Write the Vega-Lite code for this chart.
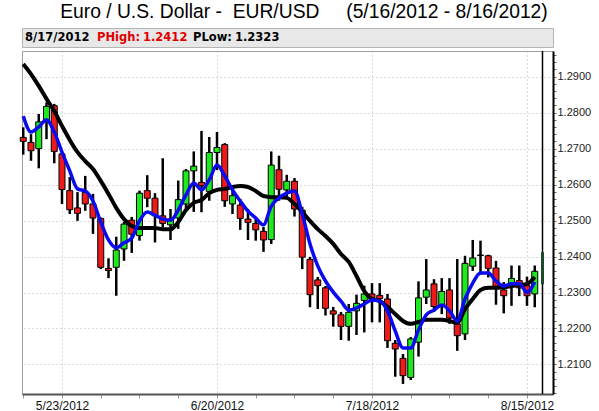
{
  "$schema": "https://vega.github.io/schema/vega-lite/v6.json",
  "background": "white",
  "padding": {"left": 14, "top": 3, "right": 2, "bottom": 2},
  "title": {
    "text": "Euro / U.S. Dollar -\u00a0 EUR/USD\u00a0\u00a0\u00a0\u00a0\u00a0(5/16/2012 - 8/16/2012)",
    "font": "Liberation Sans",
    "fontSize": 19.3,
    "fontWeight": "normal",
    "color": "#000000",
    "anchor": "middle",
    "dx": 1,
    "offset": 5
  },
  "config": {"font": "Liberation Sans", "view": {"stroke": null}},
  "spacing": 0,
  "vconcat": [
    {
      "width": 531,
      "height": 19,
      "view": {"fill": "#e8e8e8", "stroke": "#b4b4b4"},
      "layer": [
        {
          "data": {"values": [{"t": "8/17/2012"}]},
          "mark": {"type": "text", "align": "left", "baseline": "middle", "font": "DejaVu Sans", "fontWeight": "bold", "fontSize": 11.5, "color": "#000000"},
          "encoding": {"text": {"field": "t"}, "x": {"value": 3}, "y": {"value": 10}}
        },
        {
          "data": {"values": [{"t": "PHigh:"}]},
          "mark": {"type": "text", "align": "left", "baseline": "middle", "font": "DejaVu Sans", "fontWeight": "bold", "fontSize": 11.5, "color": "#e00000"},
          "encoding": {"text": {"field": "t"}, "x": {"value": 75}, "y": {"value": 10}}
        },
        {
          "data": {"values": [{"t": "1.2412"}]},
          "mark": {"type": "text", "align": "left", "baseline": "middle", "font": "DejaVu Sans", "fontWeight": "bold", "fontSize": 11.5, "color": "#e00000"},
          "encoding": {"text": {"field": "t"}, "x": {"value": 121}, "y": {"value": 10}}
        },
        {
          "data": {"values": [{"t": "PLow:"}]},
          "mark": {"type": "text", "align": "left", "baseline": "middle", "font": "DejaVu Sans", "fontWeight": "bold", "fontSize": 11.5, "color": "#000000"},
          "encoding": {"text": {"field": "t"}, "x": {"value": 171}, "y": {"value": 10}}
        },
        {
          "data": {"values": [{"t": "1.2323"}]},
          "mark": {"type": "text", "align": "left", "baseline": "middle", "font": "DejaVu Sans", "fontWeight": "bold", "fontSize": 11.5, "color": "#000000"},
          "encoding": {"text": {"field": "t"}, "x": {"value": 213}, "y": {"value": 10}}
        }
      ]
    },
    {
      "width": 531,
      "height": 343,
      "view": {"stroke": "#a0a0a0"},
      "data": {
        "values": [
          {"date": "5/16/2012", "open": 1.2731, "high": 1.2759, "low": 1.2683, "close": 1.2720, "ma_fast": 1.2790, "ma_slow": 1.2935},
          {"date": "5/17/2012", "open": 1.2717, "high": 1.2740, "low": 1.2666, "close": 1.2694, "ma_fast": 1.2746, "ma_slow": 1.2907},
          {"date": "5/18/2012", "open": 1.2700, "high": 1.2796, "low": 1.2645, "close": 1.2774, "ma_fast": 1.2760, "ma_slow": 1.2874},
          {"date": "5/21/2012", "open": 1.2780, "high": 1.2828, "low": 1.2726, "close": 1.2817, "ma_fast": 1.2779, "ma_slow": 1.2838},
          {"date": "5/22/2012", "open": 1.2819, "high": 1.2824, "low": 1.2659, "close": 1.2692, "ma_fast": 1.2746, "ma_slow": 1.2804},
          {"date": "5/23/2012", "open": 1.2685, "high": 1.2690, "low": 1.2546, "close": 1.2586, "ma_fast": 1.2690, "ma_slow": 1.2763},
          {"date": "5/24/2012", "open": 1.2583, "high": 1.2621, "low": 1.2518, "close": 1.2530, "ma_fast": 1.2638, "ma_slow": 1.2724},
          {"date": "5/25/2012", "open": 1.2535, "high": 1.2579, "low": 1.2499, "close": 1.2520, "ma_fast": 1.2588, "ma_slow": 1.2690},
          {"date": "5/28/2012", "open": 1.2578, "high": 1.2624, "low": 1.2527, "close": 1.2546, "ma_fast": 1.2582, "ma_slow": 1.2665},
          {"date": "5/29/2012", "open": 1.2546, "high": 1.2574, "low": 1.2463, "close": 1.2507, "ma_fast": 1.2554, "ma_slow": 1.2643},
          {"date": "5/30/2012", "open": 1.2506, "high": 1.2508, "low": 1.2365, "close": 1.2370, "ma_fast": 1.2496, "ma_slow": 1.2610},
          {"date": "5/31/2012", "open": 1.2367, "high": 1.2395, "low": 1.2340, "close": 1.2361, "ma_fast": 1.2446, "ma_slow": 1.2574},
          {"date": "6/1/2012", "open": 1.2370, "high": 1.2455, "low": 1.2291, "close": 1.2418, "ma_fast": 1.2424, "ma_slow": 1.2535},
          {"date": "6/4/2012", "open": 1.2421, "high": 1.2496, "low": 1.2388, "close": 1.2490, "ma_fast": 1.2438, "ma_slow": 1.2504},
          {"date": "6/5/2012", "open": 1.2501, "high": 1.2510, "low": 1.2410, "close": 1.2462, "ma_fast": 1.2451, "ma_slow": 1.2485},
          {"date": "6/6/2012", "open": 1.2458, "high": 1.2583, "low": 1.2444, "close": 1.2576, "ma_fast": 1.2499, "ma_slow": 1.2479},
          {"date": "6/7/2012", "open": 1.2583, "high": 1.2626, "low": 1.2537, "close": 1.2562, "ma_fast": 1.2524, "ma_slow": 1.2479},
          {"date": "6/8/2012", "open": 1.2562, "high": 1.2576, "low": 1.2439, "close": 1.2513, "ma_fast": 1.2515, "ma_slow": 1.2479},
          {"date": "6/11/2012", "open": 1.2513, "high": 1.2673, "low": 1.2481, "close": 1.2492, "ma_fast": 1.2504, "ma_slow": 1.2476},
          {"date": "6/12/2012", "open": 1.2488, "high": 1.2532, "low": 1.2446, "close": 1.2504, "ma_fast": 1.2501, "ma_slow": 1.2476},
          {"date": "6/13/2012", "open": 1.2507, "high": 1.2611, "low": 1.2477, "close": 1.2558, "ma_fast": 1.2529, "ma_slow": 1.2496},
          {"date": "6/14/2012", "open": 1.2546, "high": 1.2643, "low": 1.2532, "close": 1.2638, "ma_fast": 1.2571, "ma_slow": 1.2529},
          {"date": "6/15/2012", "open": 1.2638, "high": 1.2692, "low": 1.2524, "close": 1.2651, "ma_fast": 1.2604, "ma_slow": 1.2549},
          {"date": "6/18/2012", "open": 1.2606, "high": 1.2749, "low": 1.2523, "close": 1.2597, "ma_fast": 1.2585, "ma_slow": 1.2557},
          {"date": "6/19/2012", "open": 1.2581, "high": 1.2732, "low": 1.2555, "close": 1.2689, "ma_fast": 1.2613, "ma_slow": 1.2576},
          {"date": "6/20/2012", "open": 1.2689, "high": 1.2746, "low": 1.2640, "close": 1.2703, "ma_fast": 1.2654, "ma_slow": 1.2585},
          {"date": "6/21/2012", "open": 1.2711, "high": 1.2715, "low": 1.2538, "close": 1.2555, "ma_fast": 1.2624, "ma_slow": 1.2588},
          {"date": "6/22/2012", "open": 1.2546, "high": 1.2582, "low": 1.2518, "close": 1.2569, "ma_fast": 1.2585, "ma_slow": 1.2593},
          {"date": "6/25/2012", "open": 1.2543, "high": 1.2560, "low": 1.2474, "close": 1.2506, "ma_fast": 1.2554, "ma_slow": 1.2596},
          {"date": "6/26/2012", "open": 1.2504, "high": 1.2532, "low": 1.2446, "close": 1.2495, "ma_fast": 1.2526, "ma_slow": 1.2593},
          {"date": "6/27/2012", "open": 1.2492, "high": 1.2510, "low": 1.2444, "close": 1.2474, "ma_fast": 1.2507, "ma_slow": 1.2582},
          {"date": "6/28/2012", "open": 1.2470, "high": 1.2482, "low": 1.2413, "close": 1.2446, "ma_fast": 1.2488, "ma_slow": 1.2568},
          {"date": "6/29/2012", "open": 1.2447, "high": 1.2692, "low": 1.2435, "close": 1.2654, "ma_fast": 1.2540, "ma_slow": 1.2565},
          {"date": "7/2/2012", "open": 1.2641, "high": 1.2680, "low": 1.2555, "close": 1.2587, "ma_fast": 1.2563, "ma_slow": 1.2565},
          {"date": "7/3/2012", "open": 1.2585, "high": 1.2627, "low": 1.2568, "close": 1.2609, "ma_fast": 1.2576, "ma_slow": 1.2563},
          {"date": "7/4/2012", "open": 1.2609, "high": 1.2618, "low": 1.2511, "close": 1.2532, "ma_fast": 1.2582, "ma_slow": 1.2546},
          {"date": "7/5/2012", "open": 1.2529, "high": 1.2538, "low": 1.2365, "close": 1.2398, "ma_fast": 1.2518, "ma_slow": 1.2524},
          {"date": "7/6/2012", "open": 1.2392, "high": 1.2399, "low": 1.2259, "close": 1.2294, "ma_fast": 1.2435, "ma_slow": 1.2499},
          {"date": "7/9/2012", "open": 1.2335, "high": 1.2343, "low": 1.2254, "close": 1.2319, "ma_fast": 1.2374, "ma_slow": 1.2476},
          {"date": "7/10/2012", "open": 1.2313, "high": 1.2318, "low": 1.2236, "close": 1.2256, "ma_fast": 1.2332, "ma_slow": 1.2457},
          {"date": "7/11/2012", "open": 1.2249, "high": 1.2260, "low": 1.2205, "close": 1.2240, "ma_fast": 1.2301, "ma_slow": 1.2435},
          {"date": "7/12/2012", "open": 1.2238, "high": 1.2246, "low": 1.2168, "close": 1.2206, "ma_fast": 1.2276, "ma_slow": 1.2407},
          {"date": "7/13/2012", "open": 1.2206, "high": 1.2268, "low": 1.2166, "close": 1.2245, "ma_fast": 1.2251, "ma_slow": 1.2385},
          {"date": "7/16/2012", "open": 1.2249, "high": 1.2294, "low": 1.2182, "close": 1.2270, "ma_fast": 1.2257, "ma_slow": 1.2346},
          {"date": "7/17/2012", "open": 1.2278, "high": 1.2319, "low": 1.2189, "close": 1.2296, "ma_fast": 1.2268, "ma_slow": 1.2304},
          {"date": "7/18/2012", "open": 1.2296, "high": 1.2326, "low": 1.2217, "close": 1.2285, "ma_fast": 1.2279, "ma_slow": 1.2282},
          {"date": "7/19/2012", "open": 1.2292, "high": 1.2326, "low": 1.2217, "close": 1.2283, "ma_fast": 1.2276, "ma_slow": 1.2276},
          {"date": "7/20/2012", "open": 1.2282, "high": 1.2296, "low": 1.2146, "close": 1.2166, "ma_fast": 1.2249, "ma_slow": 1.2260},
          {"date": "7/23/2012", "open": 1.2159, "high": 1.2168, "low": 1.2066, "close": 1.2143, "ma_fast": 1.2193, "ma_slow": 1.2240},
          {"date": "7/24/2012", "open": 1.2117, "high": 1.2129, "low": 1.2046, "close": 1.2069, "ma_fast": 1.2146, "ma_slow": 1.2221},
          {"date": "7/25/2012", "open": 1.2064, "high": 1.2176, "low": 1.2057, "close": 1.2171, "ma_fast": 1.2146, "ma_slow": 1.2213},
          {"date": "7/26/2012", "open": 1.2162, "high": 1.2331, "low": 1.2122, "close": 1.2285, "ma_fast": 1.2196, "ma_slow": 1.2218},
          {"date": "7/27/2012", "open": 1.2287, "high": 1.2393, "low": 1.2268, "close": 1.2307, "ma_fast": 1.2238, "ma_slow": 1.2224},
          {"date": "7/30/2012", "open": 1.2324, "high": 1.2337, "low": 1.2246, "close": 1.2261, "ma_fast": 1.2251, "ma_slow": 1.2224},
          {"date": "7/31/2012", "open": 1.2263, "high": 1.2340, "low": 1.2240, "close": 1.2303, "ma_fast": 1.2265, "ma_slow": 1.2224},
          {"date": "8/1/2012", "open": 1.2307, "high": 1.2340, "low": 1.2213, "close": 1.2229, "ma_fast": 1.2249, "ma_slow": 1.2221},
          {"date": "8/2/2012", "open": 1.2213, "high": 1.2393, "low": 1.2138, "close": 1.2180, "ma_fast": 1.2221, "ma_slow": 1.2215},
          {"date": "8/3/2012", "open": 1.2185, "high": 1.2402, "low": 1.2168, "close": 1.2381, "ma_fast": 1.2282, "ma_slow": 1.2254},
          {"date": "8/6/2012", "open": 1.2373, "high": 1.2446, "low": 1.2360, "close": 1.2396, "ma_fast": 1.2326, "ma_slow": 1.2282},
          {"date": "8/7/2012", "open": 1.2404, "high": 1.2444, "low": 1.2350, "close": 1.2403, "ma_fast": 1.2354, "ma_slow": 1.2307},
          {"date": "8/8/2012", "open": 1.2402, "high": 1.2405, "low": 1.2342, "close": 1.2367, "ma_fast": 1.2354, "ma_slow": 1.2313},
          {"date": "8/9/2012", "open": 1.2368, "high": 1.2388, "low": 1.2266, "close": 1.2317, "ma_fast": 1.2332, "ma_slow": 1.2313},
          {"date": "8/10/2012", "open": 1.2307, "high": 1.2329, "low": 1.2242, "close": 1.2291, "ma_fast": 1.2318, "ma_slow": 1.2315},
          {"date": "8/13/2012", "open": 1.2319, "high": 1.2375, "low": 1.2263, "close": 1.2339, "ma_fast": 1.2324, "ma_slow": 1.2318},
          {"date": "8/14/2012", "open": 1.2333, "high": 1.2375, "low": 1.2290, "close": 1.2313, "ma_fast": 1.2324, "ma_slow": 1.2321},
          {"date": "8/15/2012", "open": 1.2319, "high": 1.2344, "low": 1.2263, "close": 1.2291, "ma_fast": 1.2301, "ma_slow": 1.2324},
          {"date": "8/16/2012", "open": 1.2296, "high": 1.2375, "low": 1.2259, "close": 1.2359, "ma_fast": 1.2329, "ma_slow": 1.2343},
          {"date": "8/17/2012", "proj_high": 1.2412, "proj_low": 1.2323}
        ]
      },
      "encoding": {
        "x": {
          "field": "date",
          "type": "ordinal",
          "sort": null,
          "scale": {
            "type": "point",
            "padding": 0.758,
            "align": 0.106,
            "domain": ["5/16/2012", "5/17/2012", "5/18/2012", "5/21/2012", "5/22/2012", "5/23/2012", "5/24/2012", "5/25/2012", "5/28/2012", "5/29/2012", "5/30/2012", "5/31/2012", "6/1/2012", "6/4/2012", "6/5/2012", "6/6/2012", "6/7/2012", "6/8/2012", "6/11/2012", "6/12/2012", "6/13/2012", "6/14/2012", "6/15/2012", "6/18/2012", "6/19/2012", "6/20/2012", "6/21/2012", "6/22/2012", "6/25/2012", "6/26/2012", "6/27/2012", "6/28/2012", "6/29/2012", "7/2/2012", "7/3/2012", "7/4/2012", "7/5/2012", "7/6/2012", "7/9/2012", "7/10/2012", "7/11/2012", "7/12/2012", "7/13/2012", "7/16/2012", "7/17/2012", "7/18/2012", "7/19/2012", "7/20/2012", "7/23/2012", "7/24/2012", "7/25/2012", "7/26/2012", "7/27/2012", "7/30/2012", "7/31/2012", "8/1/2012", "8/2/2012", "8/3/2012", "8/6/2012", "8/7/2012", "8/8/2012", "8/9/2012", "8/10/2012", "8/13/2012", "8/14/2012", "8/15/2012", "8/16/2012", "8/17/2012"]
          },
          "axis": {
            "title": null,
            "values": ["5/16/2012", "5/23/2012", "5/30/2012", "6/6/2012", "6/13/2012", "6/20/2012", "6/27/2012", "7/4/2012", "7/11/2012", "7/18/2012", "7/25/2012", "8/1/2012", "8/8/2012", "8/15/2012"],
            "labelExpr": "indexof(['5/23/2012','6/20/2012','7/18/2012','8/15/2012'], datum.value) >= 0 ? datum.value : ''",
            "labelAngle": 0,
            "labelOverlap": false,
            "labelFlush": false,
            "labelFont": "Liberation Sans",
            "labelFontSize": 12,
            "labelColor": "#111111",
            "labelPadding": 2,
            "grid": true,
            "gridColor": "#b4b4b4",
            "gridDash": [1, 3],
            "gridOpacity": {"condition": {"test": "indexof(['5/23/2012','6/20/2012','7/18/2012','8/15/2012'], datum.value) >= 0", "value": 1}, "value": 0},
            "domainColor": "#555555",
            "domainWidth": 2,
            "tickColor": "#999999",
            "tickSize": 4
          }
        }
      },
      "layer": [
        {
          "mark": {"type": "rule", "color": "#000000", "strokeWidth": 2.5},
          "encoding": {
            "y": {
              "field": "low",
              "type": "quantitative",
              "scale": {"domain": [1.2018, 1.2971], "nice": false, "zero": false},
              "axis": {
                "orient": "right",
                "title": null,
                "tickCount": 100,
                "values": [1.202, 1.204, 1.206, 1.208, 1.21, 1.212, 1.214, 1.216, 1.218, 1.22, 1.222, 1.224, 1.226, 1.228, 1.23, 1.232, 1.234, 1.236, 1.238, 1.24, 1.242, 1.244, 1.246, 1.248, 1.25, 1.252, 1.254, 1.256, 1.258, 1.26, 1.262, 1.264, 1.266, 1.268, 1.27, 1.272, 1.274, 1.276, 1.278, 1.28, 1.282, 1.284, 1.286, 1.288, 1.29, 1.292, 1.294, 1.296],
                "labelExpr": "round(datum.value*1000) % 10 == 0 ? format(datum.value, '.4f') : ''",
                "labelOverlap": false,
                "labelFlush": false,
                "labelFont": "Liberation Sans",
                "labelFontSize": 11,
                "labelColor": "#222222",
                "labelPadding": 1,
                "grid": true,
                "gridColor": "#b4b4b4",
                "gridDash": [1, 3],
                "gridOpacity": {"condition": {"test": "round(datum.value*1000) % 10 == 0", "value": 1}, "value": 0},
                "domainColor": "#000000",
                "domainWidth": 2,
                "tickColor": "#666666",
                "tickSize": 3
              }
            },
            "y2": {"field": "high"}
          }
        },
        {
          "mark": {"type": "bar", "width": 6, "stroke": "#000000", "strokeWidth": 1},
          "encoding": {
            "y": {"field": "open", "type": "quantitative"},
            "y2": {"field": "close"},
            "color": {"condition": {"test": "datum.close >= datum.open", "value": "#1ee81e"}, "value": "#ee1a1a"}
          }
        },
        {
          "mark": {"type": "line", "color": "#000000", "strokeWidth": 4, "interpolate": "monotone"},
          "encoding": {"y": {"field": "ma_slow", "type": "quantitative"}, "order": {"value": null}}
        },
        {
          "mark": {"type": "line", "color": "#0a0af0", "strokeWidth": 3.5, "interpolate": "monotone"},
          "encoding": {"y": {"field": "ma_fast", "type": "quantitative"}, "order": {"value": null}}
        },
        {
          "transform": [{"filter": "isValid(datum.proj_high)"}],
          "mark": {"type": "rule", "color": "#000000", "strokeWidth": 1.5},
          "encoding": {}
        },
        {
          "mark": {"type": "bar", "width": 3, "color": "#1d4a2a"},
          "encoding": {"y": {"field": "proj_low", "type": "quantitative"}, "y2": {"field": "proj_high"}}
        }
      ]
    }
  ]
}
